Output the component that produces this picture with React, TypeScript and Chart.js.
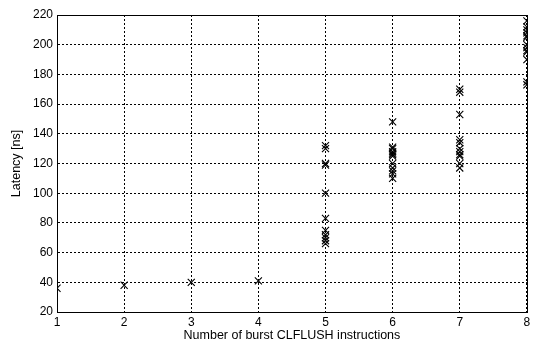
import React, { useEffect, useRef } from "react";
import { Chart, registerables } from "chart.js";
Chart.register(...registerables);

const burstCounts = [1, 2, 3, 4, 5, 6, 7, 8];
const latencies: number[][] = [
  [36],
  [38],
  [40],
  [41],
  [132, 130, 120, 119, 100, 83, 75, 72, 70, 68, 66],
  [148, 131, 130, 128, 127, 126, 125, 120, 117, 115, 113, 110],
  [170, 168, 153, 136, 134, 130, 128, 126, 125, 120, 117],
  [216, 212, 210, 208, 206, 205, 200, 198, 196, 195, 190, 175, 173],
];
const yTicks = [20, 40, 60, 80, 100, 120, 140, 160, 180, 200, 220];

const FONT = "'Liberation Sans', Arial, Helvetica, sans-serif";

const boxPlugin = {
  id: "box",
  afterDraw(chart: any) {
    const { ctx, chartArea } = chart;
    ctx.save();
    ctx.strokeStyle = "#000";
    ctx.lineWidth = 1;
    ctx.setLineDash([]);
    ctx.strokeRect(
      Math.round(chartArea.left) + 0.5,
      Math.round(chartArea.top) + 0.5,
      Math.round(chartArea.right - chartArea.left),
      Math.round(chartArea.bottom - chartArea.top)
    );
    ctx.restore();
  },
};

export default function App() {
  const ref = useRef<HTMLCanvasElement>(null);
  useEffect(() => {
    const points: { x: number; y: number }[] = [];
    burstCounts.forEach((b, i) => latencies[i].forEach((v) => points.push({ x: b, y: v })));
    const chart = new Chart(ref.current!, {
      type: "scatter",
      data: {
        datasets: [
          {
            data: points,
            pointStyle: "crossRot",
            pointRadius: 5,
            borderColor: "#000",
            backgroundColor: "#000",
            borderWidth: 1.1,
          },
        ],
      },
      options: {
        animation: false,
        responsive: false,
        maintainAspectRatio: false,
        layout: { padding: { top: 15, right: 3, left: 0, bottom: 0 } },
        plugins: { legend: { display: false }, tooltip: { enabled: false } },
        scales: {
          x: {
            type: "linear",
            min: 1,
            max: 8,
            afterBuildTicks: (s: any) => {
              s.ticks = burstCounts.map((v) => ({ value: v }));
            },
            afterFit: (s: any) => {
              s.height = 33;
              s.paddingRight = 0;
              s.paddingLeft = 0;
            },
            ticks: { color: "#000", font: { family: FONT, size: 12 }, padding: 3, maxRotation: 0 },
            grid: { color: "#000", lineWidth: 1, drawTicks: false },
            border: { display: true, color: "#000", dash: [2, 2] },
            title: {
              display: true,
              text: "Number of burst CLFLUSH instructions",
              color: "#000",
              font: { family: FONT, size: 12.5 },
              padding: { top: 0, bottom: 1.5 },
            },
          },
          y: {
            min: 20,
            max: 220,
            afterBuildTicks: (s: any) => {
              s.ticks = yTicks.map((v) => ({ value: v }));
            },
            afterFit: (s: any) => {
              s.width = 57;
            },
            ticks: { color: "#000", font: { family: FONT, size: 12 }, padding: 4 },
            grid: { color: "#000", lineWidth: 1, drawTicks: false },
            border: { display: true, color: "#000", dash: [2, 2] },
            title: {
              display: true,
              text: "Latency [ns]",
              color: "#000",
              font: { family: FONT, size: 12.5 },
              padding: { top: 9.5, bottom: 0 },
            },
          },
        },
      },
      plugins: [boxPlugin],
    });
    return () => chart.destroy();
  }, []);
  return (
    <div style={{ position: "fixed", left: 0, top: 0, width: 533, height: 345, background: "#fff" }}>
      <canvas ref={ref} width={533} height={345} />
    </div>
  );
}
